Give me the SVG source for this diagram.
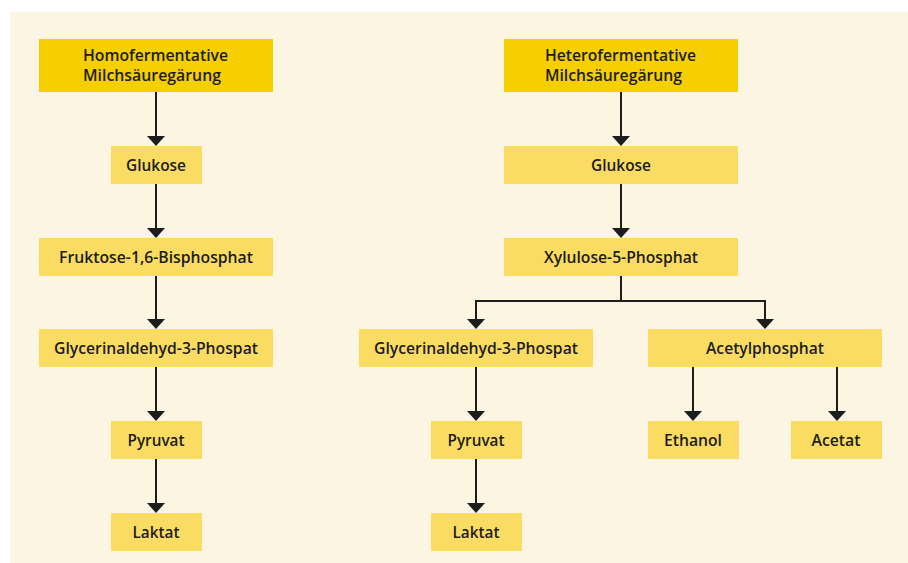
<svg xmlns="http://www.w3.org/2000/svg" width="908" height="563" viewBox="0 0 908 563">
<defs>
<marker id="ah" markerUnits="userSpaceOnUse" viewBox="0 -9 10 18" markerWidth="10" markerHeight="18" refX="5" refY="0" orient="auto">
<path d="M0,-9 L10,0 L0,9 z" fill="#1d1d1b"/>
</marker>
<style>
.hd{fill:#f6cf00}
.bx{fill:#fadc63}
.t{font-family:"Open Sans","Noto Sans","Liberation Sans",sans-serif;font-weight:600;font-size:17px;fill:#1d1d1b}
.c{text-anchor:middle}
.ln{stroke:#1d1d1b;stroke-width:2;fill:none}
.ar{marker-end:url(#ah)}
</style>
</defs>
<rect x="0" y="0" width="908" height="563" fill="#ffffff"/>
<rect x="10" y="12" width="898" height="551" fill="#fcf5e2"/>

<g id="connectors">
<line class="ln ar" x1="156" y1="92" x2="156" y2="141"/>
<line class="ln ar" x1="156" y1="184" x2="156" y2="233"/>
<line class="ln ar" x1="156" y1="276" x2="156" y2="324"/>
<line class="ln ar" x1="156" y1="367" x2="156" y2="416"/>
<line class="ln ar" x1="156" y1="459" x2="156" y2="508"/>
<line class="ln ar" x1="621" y1="92" x2="621" y2="141"/>
<line class="ln ar" x1="621" y1="184" x2="621" y2="233"/>
<polyline class="ln" points="621,276 621,301"/>
<polyline class="ln ar" points="621,301 476,301 476,324"/>
<polyline class="ln ar" points="621,301 765,301 765,324"/>
<line class="ln ar" x1="476" y1="367" x2="476" y2="416"/>
<line class="ln ar" x1="476" y1="459" x2="476" y2="508"/>
<line class="ln ar" x1="693" y1="367" x2="693" y2="416"/>
<line class="ln ar" x1="837" y1="367" x2="837" y2="416"/>
</g>

<g id="homo">
<rect class="hd" x="39" y="39" width="234" height="53"/>
<text class="t"><tspan x="83" y="61" textLength="145" lengthAdjust="spacingAndGlyphs">Homofermentative</tspan><tspan x="83" y="81" textLength="138" lengthAdjust="spacingAndGlyphs">Milchsäuregärung</tspan></text>
</g>
<g id="glukose1">
<rect class="bx" x="111" y="146" width="91" height="38"/>
<text class="t c" x="156" y="171" textLength="60" lengthAdjust="spacingAndGlyphs">Glukose</text>
</g>
<g id="fruktose">
<rect class="bx" x="39" y="238" width="234" height="38"/>
<text class="t c" x="156" y="263" textLength="194" lengthAdjust="spacingAndGlyphs">Fruktose-1,6-Bisphosphat</text>
</g>
<g id="glycerin1">
<rect class="bx" x="39" y="329" width="234" height="38"/>
<text class="t c" x="156" y="354" textLength="204" lengthAdjust="spacingAndGlyphs">Glycerinaldehyd-3-Phospat</text>
</g>
<g id="pyruvat1">
<rect class="bx" x="111" y="421" width="91" height="38"/>
<text class="t c" x="156" y="446" textLength="57" lengthAdjust="spacingAndGlyphs">Pyruvat</text>
</g>
<g id="laktat1">
<rect class="bx" x="111" y="513" width="91" height="38"/>
<text class="t c" x="156" y="538" textLength="47" lengthAdjust="spacingAndGlyphs">Laktat</text>
</g>

<g id="hetero">
<rect class="hd" x="504" y="39" width="234" height="53"/>
<text class="t"><tspan x="545" y="61" textLength="151" lengthAdjust="spacingAndGlyphs">Heterofermentative</tspan><tspan x="545" y="81" textLength="137" lengthAdjust="spacingAndGlyphs">Milchsäuregärung</tspan></text>
</g>
<g id="glukose2">
<rect class="bx" x="504" y="146" width="234" height="38"/>
<text class="t c" x="621" y="171" textLength="60" lengthAdjust="spacingAndGlyphs">Glukose</text>
</g>
<g id="xylulose">
<rect class="bx" x="504" y="238" width="234" height="38"/>
<text class="t c" x="621" y="263" textLength="154" lengthAdjust="spacingAndGlyphs">Xylulose-5-Phosphat</text>
</g>
<g id="glycerin2">
<rect class="bx" x="359" y="329" width="234" height="38"/>
<text class="t c" x="476" y="354" textLength="204" lengthAdjust="spacingAndGlyphs">Glycerinaldehyd-3-Phospat</text>
</g>
<g id="acetylphosphat">
<rect class="bx" x="648" y="329" width="234" height="38"/>
<text class="t c" x="765" y="354" textLength="118" lengthAdjust="spacingAndGlyphs">Acetylphosphat</text>
</g>
<g id="pyruvat2">
<rect class="bx" x="431" y="421" width="91" height="38"/>
<text class="t c" x="476" y="446" textLength="57" lengthAdjust="spacingAndGlyphs">Pyruvat</text>
</g>
<g id="laktat2">
<rect class="bx" x="431" y="513" width="91" height="38"/>
<text class="t c" x="476" y="538" textLength="47" lengthAdjust="spacingAndGlyphs">Laktat</text>
</g>
<g id="ethanol">
<rect class="bx" x="648" y="421" width="91" height="38"/>
<text class="t c" x="693" y="446" textLength="58" lengthAdjust="spacingAndGlyphs">Ethanol</text>
</g>
<g id="acetat">
<rect class="bx" x="791" y="421" width="91" height="38"/>
<text class="t c" x="836" y="446" textLength="49" lengthAdjust="spacingAndGlyphs">Acetat</text>
</g>
</svg>
